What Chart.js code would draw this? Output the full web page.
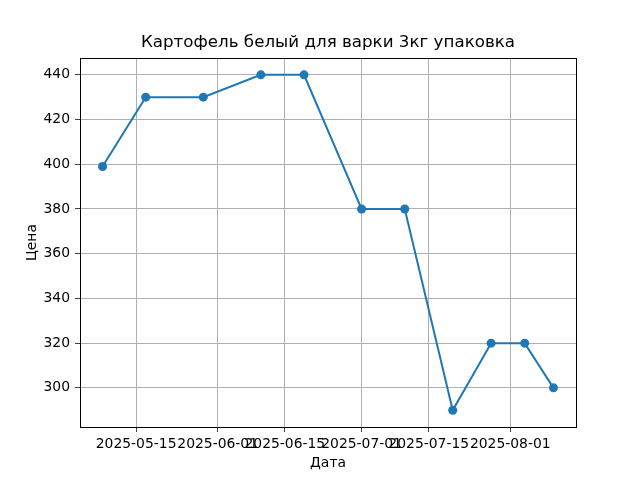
<!DOCTYPE html>
<html lang="ru">
<head>
    <meta charset="UTF-8">
    <title>Картофель белый для варки 3кг упаковка</title>
    <script src="https://cdn.jsdelivr.net/npm/chart.js"></script>
    <style>
        html, body { margin: 0; padding: 0; background: #fff; }
        #wrap { width: 640px; height: 480px; }
    </style>
</head>
<body>
    <div id="wrap"><canvas id="priceChart" width="640" height="480"></canvas></div>
    <script>
        // Data
        const dates = ["2025-05-08", "2025-05-17", "2025-05-29", "2025-06-10", "2025-06-19",
                       "2025-07-01", "2025-07-10", "2025-07-20", "2025-07-28", "2025-08-04", "2025-08-10"];
        const prices = [399, 430, 430, 440, 440, 380, 380, 290, 320, 320, 300];
        const xTickDates = ["2025-05-15", "2025-06-01", "2025-06-15", "2025-07-01", "2025-07-15", "2025-08-01"];
        const yTicks = [300, 320, 340, 360, 380, 400, 420, 440];

        // Dates become day numbers so a linear scale can be used (no date adapter offline)
        const DAY = 86400000;
        const base = Date.parse(dates[0] + "T00:00:00Z");
        const toDay = d => (Date.parse(d + "T00:00:00Z") - base) / DAY;
        const fromDay = n => new Date(base + n * DAY).toISOString().slice(0, 10);

        const points = dates.map((d, i) => ({ x: toDay(d), y: prices[i] }));
        const xTickValues = xTickDates.map(toDay);

        // Matplotlib-like 5% margins
        const xs = points.map(p => p.x);
        const xMinD = Math.min(...xs), xMaxD = Math.max(...xs);
        const xPad = (xMaxD - xMinD) * 0.05;
        const yMinD = Math.min(...prices), yMaxD = Math.max(...prices);
        const yPad = (yMaxD - yMinD) * 0.05;

        const font = "'DejaVu Sans', sans-serif";
        Chart.defaults.color = "#000";
        Chart.defaults.font.family = font;

        // Full box around the plot area, like matplotlib spines
        const frame = {
            id: "frame",
            afterDraw(chart) {
                const { ctx, chartArea: a } = chart;
                ctx.save();
                ctx.strokeStyle = "#000";
                ctx.lineWidth = 1;
                ctx.strokeRect(Math.round(a.left) + 0.5, Math.round(a.top) + 0.5,
                    Math.round(a.right - a.left), Math.round(a.bottom - a.top));
                ctx.restore();
            }
        };

        const gridOpts = { color: "#b0b0b0", lineWidth: 1, tickLength: 5, tickColor: "#444", tickWidth: 1 };

        new Chart(document.getElementById("priceChart"), {
            type: "line",
            data: {
                datasets: [{
                    data: points,
                    borderColor: "#1f77b4",
                    backgroundColor: "#1f77b4",
                    borderWidth: 2,
                    pointRadius: 4.5,
                    pointHoverRadius: 4.5,
                    pointBorderWidth: 0,
                    tension: 0
                }]
            },
            options: {
                responsive: false,
                animation: false,
                // left padding + right spacer axis keep the title centred over the plot area
                layout: { padding: { left: 16, right: 0, top: 0, bottom: 0 } },
                plugins: {
                    legend: { display: false },
                    tooltip: { enabled: false },
                    title: {
                        display: true,
                        text: "Картофель белый для варки 3кг упаковка",
                        font: { family: font, size: 16.7, weight: "normal" },
                        color: "#000",
                        padding: { top: 33, bottom: 5 }
                    }
                },
                scales: {
                    x: {
                        type: "linear",
                        min: xMinD - xPad,
                        max: xMaxD + xPad,
                        afterBuildTicks: s => { s.ticks = xTickValues.map(v => ({ value: v })); },
                        afterFit: s => { s.height = 53; },
                        ticks: {
                            autoSkip: false,
                            maxRotation: 0,
                            minRotation: 0,
                            padding: 4,
                            font: { size: 13.9 },
                            callback: v => fromDay(v)
                        },
                        grid: gridOpts,
                        border: { display: false },
                        title: {
                            display: true,
                            text: "Дата",
                            font: { size: 13.9 },
                            padding: { top: 0, bottom: 8.5 }
                        }
                    },
                    y: {
                        type: "linear",
                        min: yMinD - yPad,
                        max: yMaxD + yPad,
                        afterBuildTicks: s => { s.ticks = yTicks.map(v => ({ value: v })); },
                        afterFit: s => { s.width = 64; },
                        ticks: {
                            padding: 5,
                            font: { size: 13.9 }
                        },
                        grid: gridOpts,
                        border: { display: false },
                        title: {
                            display: true,
                            text: "Цена",
                            font: { size: 13.9 },
                            padding: { top: 8.5, bottom: 0 }
                        }
                    },
                    spacer: {
                        type: "linear",
                        position: "right",
                        ticks: { display: false },
                        grid: { display: false, drawTicks: false },
                        border: { display: false },
                        afterFit: s => { s.width = 64; }
                    }
                }
            },
            plugins: [frame]
        });
    </script>
</body>
</html>
